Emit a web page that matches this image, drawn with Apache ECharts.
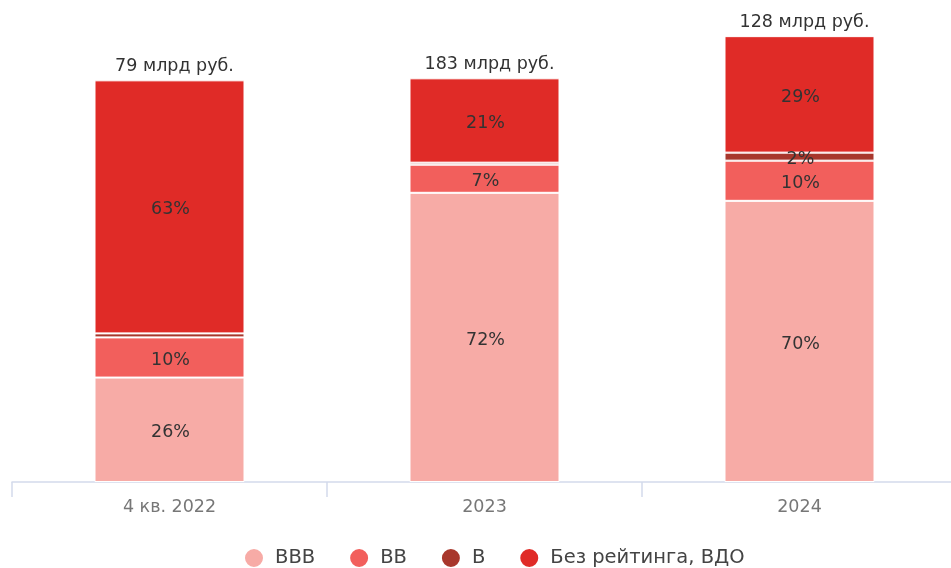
<!DOCTYPE html>
<html><head><meta charset="utf-8">
<script src="https://cdn.jsdelivr.net/npm/echarts@6/dist/echarts.min.js"></script>
<style>html,body{margin:0;padding:0;background:#fff;overflow:hidden;width:951px;height:568px}#c{width:957px;height:568px}</style>
</head><body><div id="c"></div>
<script>
const categories = ['4 кв. 2022', '2023', '2024'];
const seriesNames = ['BBB', 'BB', 'B', 'Без рейтинга, ВДО'];
const valBBB = [26, 72, 70];
const valBB = [10, 7, 10];
const valB = [1, 0.5, 2];
const valNoRating = [63, 21, 29];
const totals = [79, 183, 128];
const colors = ['#f7aba6', '#f25f5c', '#a8372c', '#e02b27'];

const font = 'DejaVu Sans';
function seg(name, data, color) {
  return {
    name: name, type: 'bar', stack: 's', data: data, barWidth: 150,
    itemStyle: { color: color, borderColor: '#fff', borderWidth: 1 },
    label: {
      show: true, position: 'inside', color: '#333', fontFamily: font, fontSize: 17.5,
      offset: [1, 3],
      formatter: p => p.value >= 1.5 ? Math.round(p.value) + '%' : ''
    }
  };
}
const chart = echarts.init(document.getElementById('c'));
chart.setOption({
  animation: false,
  grid: { left: 12, right: 0, top: 0, bottom: 86 },
  legend: {
    data: seriesNames, top: 542, left: 238, icon: 'circle',
    itemWidth: 20, itemHeight: 20, itemGap: 33,
    textStyle: { fontFamily: font, fontSize: 19.5, color: '#444', padding: [0, 0, 0, 6] }
  },
  xAxis: {
    type: 'category', data: categories,
    axisLine: { lineStyle: { color: '#d3daec', width: 1.5 } },
    axisTick: { show: true, length: 15, lineStyle: { color: '#d3daec', width: 1.5 } },
    axisLabel: { fontFamily: font, fontSize: 17.5, color: '#777', margin: 16 }
  },
  yAxis: { type: 'value', min: 0, max: 120, show: false, splitLine: { show: false } },
  series: [
    seg(seriesNames[0], valBBB, colors[0]),
    seg(seriesNames[1], valBB, colors[1]),
    seg(seriesNames[2], valB, colors[2]),
    seg(seriesNames[3], valNoRating, colors[3]),
    {
      name: 'total', type: 'bar', stack: 's', data: totals.map(() => 0), barWidth: 150,
      itemStyle: { color: 'transparent' },
      label: {
        show: true, position: 'top', distance: 5, offset: [5, 0], color: '#333',
        fontFamily: font, fontSize: 17.5,
        formatter: p => totals[p.dataIndex] + ' млрд руб.'
      }
    }
  ]
});
</script></body></html>
